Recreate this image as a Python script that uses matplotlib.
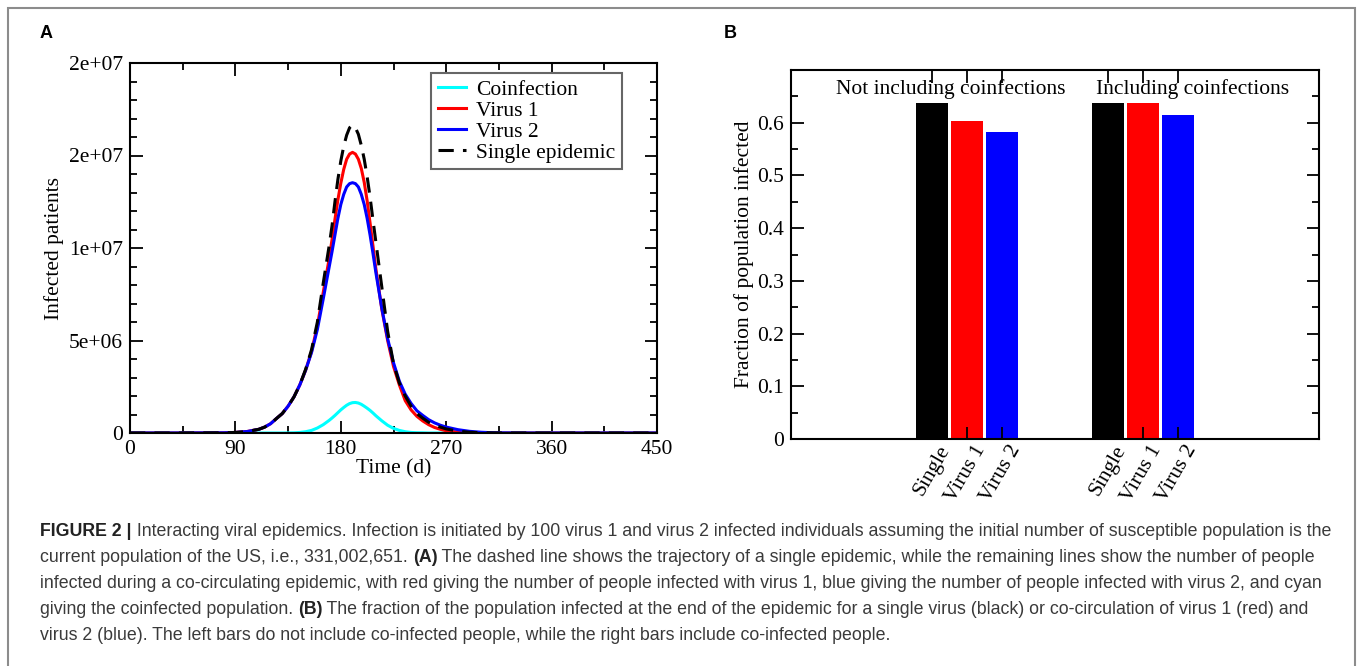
import matplotlib
matplotlib.use('Agg')
import matplotlib.pyplot as plt
import matplotlib.transforms as mtransforms
from matplotlib.ticker import FixedLocator, MultipleLocator
from matplotlib.patches import Rectangle
import numpy as np

# ---- data (panel A: infected patients, in millions) ----
t_days = [0, 40, 80, 90, 100, 110, 115, 120, 125, 130, 135, 140, 145, 150, 155, 160, 165,
          170, 172.5, 175, 177.5, 180, 182.5, 185, 187.5, 190, 192.5, 195, 197.5, 200, 202.5, 205, 207.5, 210,
          215, 220, 225, 230, 235, 240, 245, 250, 255, 260, 265, 270, 280, 290, 300, 310, 320, 340, 400, 450]

coinfection = [0, 0, 0, 0, 0, 0, 0, 0, 0, 0, 0.005, 0.01, 0.03, 0.07, 0.14, 0.27, 0.45,
               0.68, 0.81, 0.95, 1.1, 1.25, 1.38, 1.5, 1.59, 1.64, 1.65, 1.62, 1.55, 1.45, 1.34, 1.22, 1.08, 0.93,
               0.66, 0.42, 0.25, 0.14, 0.07, 0.03, 0.015, 0.01, 0, 0, 0, 0, 0, 0, 0, 0, 0, 0, 0, 0]

virus1 = [0, 0, 0.01, 0.03, 0.08, 0.2, 0.32, 0.5, 0.78, 1.05, 1.45, 1.95, 2.6, 3.4, 4.4, 5.8, 7.6,
          9.4, 10.45, 11.55, 12.6, 13.5, 14.25, 14.8, 15.08, 15.17, 15.08, 14.8, 14.3, 13.55, 12.55, 11.35, 10.1, 8.85,
          6.7, 5.0, 3.6, 2.6, 1.75, 1.25, 0.9, 0.65, 0.45, 0.3, 0.2, 0.12, 0.05, 0.02, 0.005, 0, 0, 0, 0, 0]

virus2 = [0, 0, 0.01, 0.03, 0.08, 0.2, 0.32, 0.5, 0.78, 1.05, 1.45, 1.95, 2.6, 3.4, 4.35, 5.6, 7.25,
          8.95, 9.8, 10.7, 11.6, 12.35, 12.9, 13.3, 13.48, 13.53, 13.48, 13.3, 12.9, 12.35, 11.6, 10.7, 9.7, 8.65,
          6.75, 5.1, 3.8, 2.8, 2.1, 1.6, 1.2, 0.95, 0.72, 0.55, 0.42, 0.32, 0.18, 0.09, 0.04, 0.015, 0.005, 0, 0, 0]

single = [0, 0, 0.01, 0.03, 0.08, 0.2, 0.32, 0.5, 0.78, 1.05, 1.45, 1.95, 2.6, 3.45, 4.5, 6.0, 8.1,
          10.1, 11.2, 12.5, 13.7, 14.7, 15.5, 16.1, 16.5, 16.65, 16.5, 16.15, 15.55, 14.8, 13.85, 12.75, 11.5, 10.3,
          7.9, 5.5, 3.75, 2.7, 2.0, 1.45, 1.05, 0.8, 0.58, 0.42, 0.32, 0.22, 0.1, 0.04, 0.015, 0.005, 0, 0, 0, 0]

y_ticks_A = [0, 5e6, 1e7, 1.5e7, 2e7]
y_tick_labels_A = ['0', '5e+06', '1e+07', '2e+07', '2e+07']

# ---- data (panel B) ----
bar_labels = ['Single', 'Virus 1', 'Virus 2']
bar_colors = ['black', '#ff0000', '#0000ff']
not_including = [0.6365, 0.604, 0.582]
including = [0.6365, 0.6365, 0.615]
group_titles = ['Not including coinfections', 'Including coinfections']

caption_lines = [
    [('FIGURE 2 |', 'bold'), (' Interacting viral epidemics. Infection is initiated by 100 virus 1 and virus 2 infected individuals assuming the initial number of susceptible population is the', 'normal')],
    [('current population of the US, i.e., 331,002,651. ', 'normal'), ('(A)', 'bold'), (' The dashed line shows the trajectory of a single epidemic, while the remaining lines show the number of people', 'normal')],
    [('infected during a co-circulating epidemic, with red giving the number of people infected with virus 1, blue giving the number of people infected with virus 2, and cyan', 'normal')],
    [('giving the coinfected population. ', 'normal'), ('(B)', 'bold'), (' The fraction of the population infected at the end of the epidemic for a single virus (black) or co-circulation of virus 1 (red) and', 'normal')],
    [('virus 2 (blue). The left bars do not include co-infected people, while the right bars include co-infected people.', 'normal')],
]

plt.rcParams['font.family'] = ['Liberation Serif', 'DejaVu Serif']
plt.rcParams['font.size'] = 15.5

W, H = 1357, 666
fig = plt.figure(figsize=(W / 100, H / 100), dpi=100)


def px_axes(l, t, r, b):
    return fig.add_axes([l / W, 1 - b / H, (r - l) / W, (b - t) / H])


def style_ticks(ax):
    ax.tick_params(which='both', direction='in', top=True, right=True, width=1.3, pad=5)
    ax.tick_params(which='major', length=9)
    ax.tick_params(which='minor', length=5)
    for s in ax.spines.values():
        s.set_linewidth(1.5)


# ---- panel A ----
axA = px_axes(130, 63, 657, 433)
t = np.array(t_days)
axA.plot(t, np.array(coinfection) * 1e6, color='#00ffff', lw=2.2, label='Coinfection')
axA.plot(t, np.array(virus1) * 1e6, color='#ff0000', lw=2.2, label='Virus 1')
axA.plot(t, np.array(virus2) * 1e6, color='#0000ff', lw=2.2, label='Virus 2')
axA.plot(t, np.array(single) * 1e6, color='black', lw=2.2, ls=(0, (5, 3)), label='Single epidemic')
axA.set_xlim(0, 450)
axA.set_ylim(0, 2e7)
axA.xaxis.set_major_locator(MultipleLocator(90))
axA.xaxis.set_minor_locator(MultipleLocator(45))
axA.yaxis.set_major_locator(FixedLocator(y_ticks_A))
axA.set_yticklabels(y_tick_labels_A)
axA.yaxis.set_minor_locator(MultipleLocator(1e6))
style_ticks(axA)
axA.set_xlabel('Time (d)')
axA.set_ylabel('Infected patients')
axA.xaxis.set_label_coords(0.5, -0.07)
axA.yaxis.set_label_coords(-0.125, 0.5)
leg = axA.legend(loc='upper right', bbox_to_anchor=(0.9336, 0.973), borderaxespad=0,
                 fancybox=False, edgecolor='#666666', framealpha=1, handlelength=1.3,
                 labelspacing=0.05, borderpad=0.3, handletextpad=0.5)
leg.get_frame().set_linewidth(1.5)

# ---- panel B ----
axB = px_axes(791, 70, 1319, 439)
group_centers = [5, 10]
positions = []
for gc, vals in zip(group_centers, [not_including, including]):
    pos = [gc - 1, gc, gc + 1]
    axB.bar(pos, vals, width=0.92, color=bar_colors)
    positions += pos
axB.set_xlim(0, 15)
axB.set_ylim(0, 0.7)
axB.set_xticks(positions)
axB.set_xticklabels([])
# rotated category labels, shifted the way the original tool draws them
label_trans = mtransforms.blended_transform_factory(axB.transData, axB.transAxes) + \
    mtransforms.ScaledTranslation(14 / 100, -8 / 100, fig.dpi_scale_trans)
for p, name in zip(positions, bar_labels * 2):
    axB.text(p, 0, name, transform=label_trans, rotation=60, ha='right', va='center',
             rotation_mode='anchor')
axB.yaxis.set_major_locator(FixedLocator(np.arange(0, 0.61, 0.1)))
axB.set_yticklabels(['0', '0.1', '0.2', '0.3', '0.4', '0.5', '0.6'])
axB.yaxis.set_minor_locator(FixedLocator(np.arange(0.05, 0.66, 0.1)))
style_ticks(axB)
axB.set_ylabel('Fraction of population infected')
axB.yaxis.set_label_coords(-0.07, 0.5)
axB.text(4.54, 0.664, group_titles[0], ha='center', va='center')
axB.text(11.42, 0.664, group_titles[1], ha='center', va='center')

# ---- panel letters, frame, caption ----
fig.text(40 / W, 1 - 33 / H, 'A', family='Liberation Sans', weight='bold', size=13, va='center')
fig.text(724 / W, 1 - 33 / H, 'B', family='Liberation Sans', weight='bold', size=13, va='center')
fig.add_artist(Rectangle((8 / W, -0.02), (1355 - 8) / W, 1.02 - 8 / H, transform=fig.transFigure,
                         fill=False, edgecolor='#8c8c8c', lw=1.5))

renderer = fig.canvas.get_renderer()
line_y = [532, 557, 583, 609, 635]
for y, parts in zip(line_y, caption_lines):
    x = 40 / W
    for text, weight in parts:
        tt = fig.text(x, 1 - y / H, text, family='Liberation Sans', weight=weight, size=12.8,
                      color='#222222' if weight == 'bold' else '#3a3a3a', va='center')
        x += tt.get_window_extent(renderer).width / fig.bbox.width

fig.savefig('out.png', dpi=100)
